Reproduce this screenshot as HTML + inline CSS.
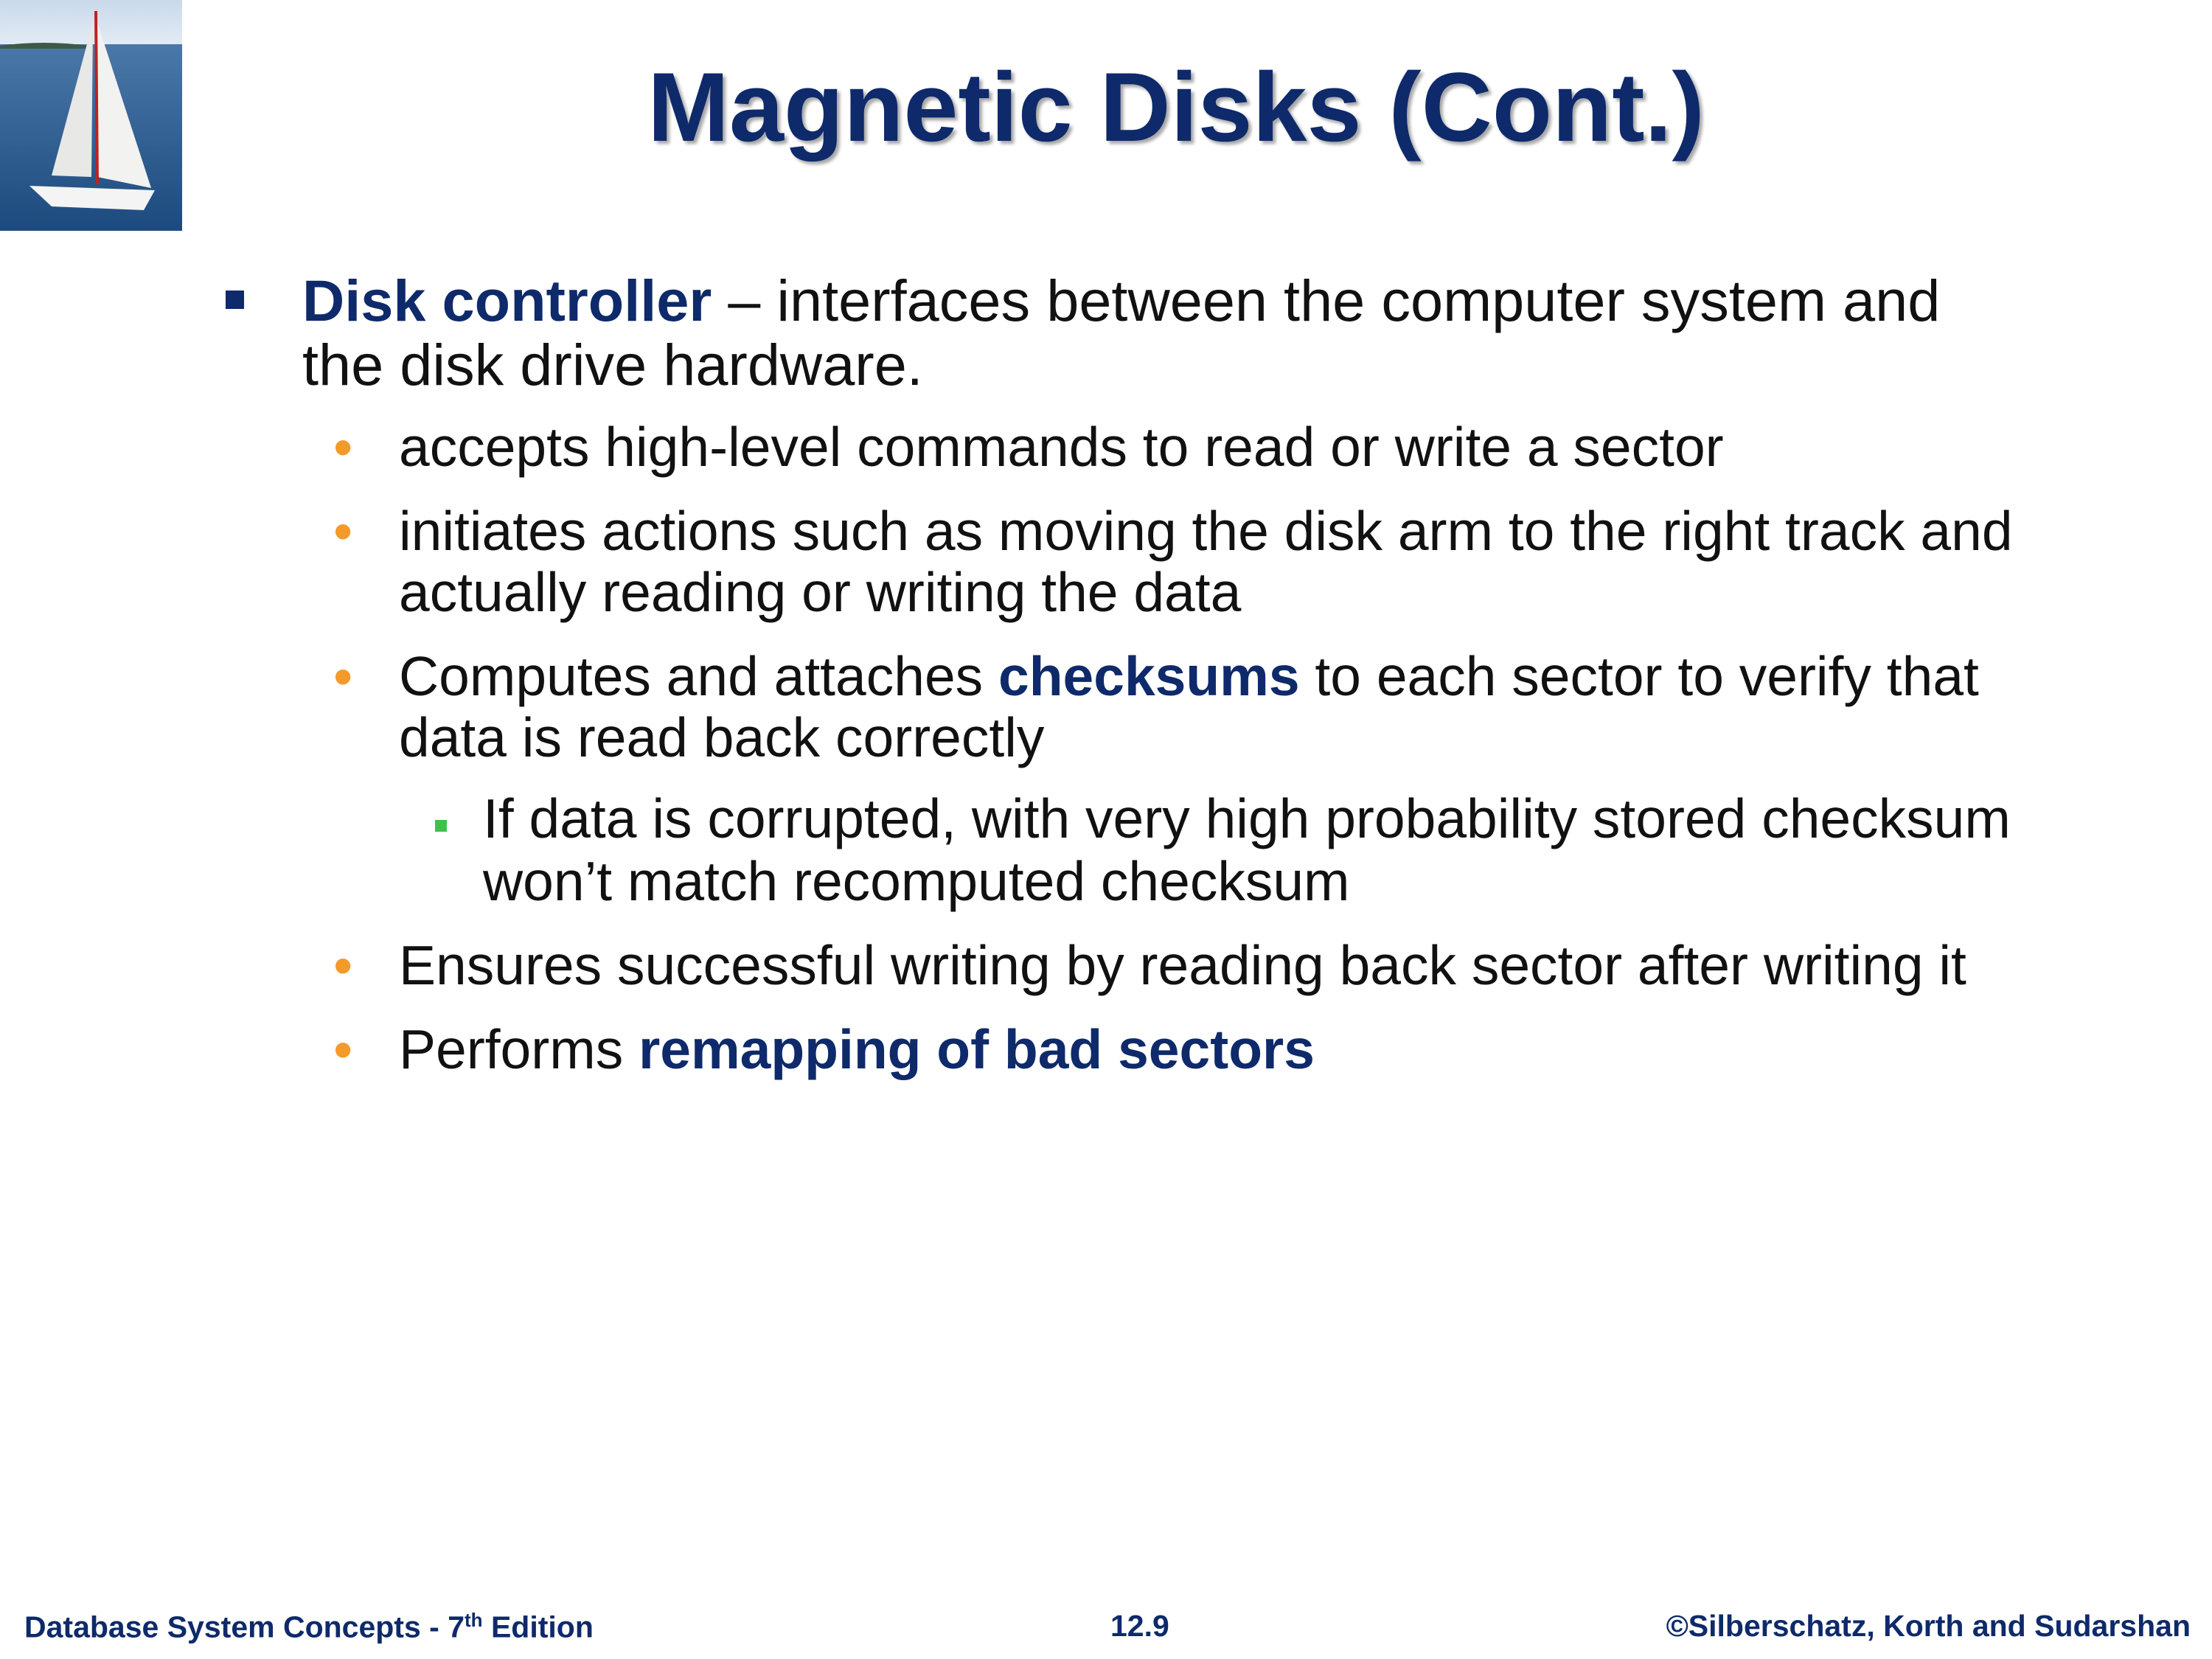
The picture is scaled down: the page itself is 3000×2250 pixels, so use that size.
<!DOCTYPE html>
<html><head><meta charset="utf-8"><style>
body{margin:0;width:3000px;height:2250px;background:#fff;position:relative;overflow:hidden;font-family:"Liberation Sans",Arial,sans-serif;color:#111}
.t{position:absolute;white-space:nowrap}
.b{color:#0e2a6b;font-weight:bold}
.s{font-size:75px;line-height:75px}
.d{color:#f39a2b}
.f{position:absolute;top:2182px;font-size:41px;font-weight:bold;color:#0e2a6b;white-space:nowrap}
</style></head><body>
<svg style="position:absolute;left:0;top:0" width="247" height="313" viewBox="0 0 247 313">
<defs><linearGradient id="sea" x1="0" y1="0" x2="0" y2="1"><stop offset="0" stop-color="#4a78a8"/><stop offset="1" stop-color="#1d4a7e"/></linearGradient>
<linearGradient id="sky" x1="0" y1="0" x2="0" y2="1"><stop offset="0" stop-color="#c9d9ea"/><stop offset="1" stop-color="#e6eef6"/></linearGradient></defs>
<rect width="247" height="70" fill="url(#sky)"/>
<rect y="60" width="247" height="253" fill="url(#sea)"/>
<path d="M0 62 Q60 54 120 62 L120 66 L0 66Z" fill="#3c5a4a"/>
<path d="M128 18 L132 240 L205 255 Z" fill="#f2f2f0"/>
<path d="M126 30 L70 238 L124 240 Z" fill="#e8e8e6"/>
<line x1="130" y1="15" x2="132" y2="250" stroke="#b22" stroke-width="4"/>
<path d="M40 252 L210 258 L195 285 L70 280 Z" fill="#f4f4f4"/>
</svg>
<div class="t b" style="left:0;width:3190px;text-align:center;top:80px;font-size:133px;line-height:133px;text-shadow:4px 4px 4px rgba(0,0,0,.35)">Magnetic Disks (Cont.)</div>

<div style="position:absolute;left:306px;top:394px;width:25px;height:25px;background:#0e2a6b"></div>
<div class="t" style="left:410px;top:368px;font-size:79.3px;line-height:80px"><span class="b">Disk controller</span> – interfaces between the computer system and</div>
<div class="t" style="left:410px;top:455px;font-size:79.3px;line-height:80px">the disk drive hardware.</div>

<div class="t s d" style="left:452px;top:569px">•</div>
<div class="t s" style="left:541px;top:569px">accepts high-level commands to read or write a sector</div>
<div class="t s d" style="left:452px;top:683px">•</div>
<div class="t s" style="left:541px;top:683px">initiates actions such as moving the disk arm to the right track and</div>
<div class="t s" style="left:541px;top:766px">actually reading or writing the data</div>
<div class="t s d" style="left:452px;top:880px">•</div>
<div class="t s" style="left:541px;top:880px">Computes and attaches <span class="b">checksums</span> to each sector to verify that</div>
<div class="t s" style="left:541px;top:963px">data is read back correctly</div>
<div style="position:absolute;left:590px;top:1112px;width:16px;height:16px;background:#3cc24a"></div>
<div class="t s" style="left:655px;top:1073px">If data is corrupted, with very high probability stored checksum</div>
<div class="t s" style="left:655px;top:1158px">won’t match recomputed checksum</div>
<div class="t s d" style="left:452px;top:1272px">•</div>
<div class="t s" style="left:541px;top:1272px">Ensures successful writing by reading back sector after writing it</div>
<div class="t s d" style="left:452px;top:1386px">•</div>
<div class="t s" style="left:541px;top:1386px">Performs <span class="b">remapping of bad sectors</span></div>

<div class="f" style="left:33px">Database System Concepts - 7<sup style="font-size:26px">th</sup> Edition</div>
<div class="f" style="left:1506px">12.9</div>
<div class="f" style="right:29px">©Silberschatz, Korth and Sudarshan</div>
</body></html>
